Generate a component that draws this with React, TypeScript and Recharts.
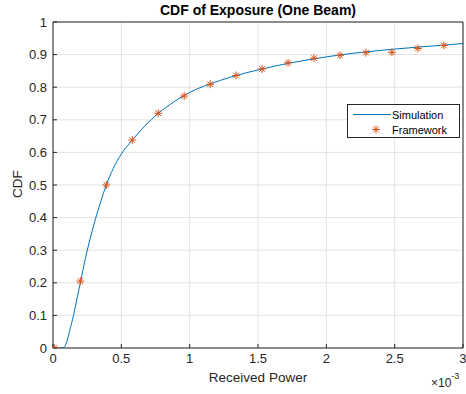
import { ComposedChart, Line, Scatter, XAxis, YAxis, CartesianGrid } from 'recharts';

// x values are in units of 10^-3
const simX = [0, 0.05, 0.075, 0.09, 0.1, 0.12, 0.15, 0.175, 0.2, 0.24, 0.3, 0.35, 0.39, 0.44, 0.5, 0.58, 0.67, 0.77, 0.86, 0.96, 1.05, 1.15, 1.3, 1.53, 1.72, 1.91, 2.1, 2.3, 2.5, 2.7, 2.86, 3.0];
const simY = [0, 0, 0, 0.008, 0.018, 0.05, 0.1, 0.15, 0.2, 0.28, 0.38, 0.45, 0.5, 0.55, 0.595, 0.638, 0.68, 0.72, 0.748, 0.775, 0.794, 0.81, 0.831, 0.856, 0.873, 0.887, 0.899, 0.909, 0.917, 0.924, 0.929, 0.934];

const fwX = [0.01, 0.2, 0.39, 0.58, 0.77, 0.96, 1.15, 1.34, 1.53, 1.72, 1.91, 2.1, 2.29, 2.48, 2.67, 2.86];
const fwY = [0, 0.205, 0.5, 0.638, 0.72, 0.773, 0.809, 0.836, 0.856, 0.875, 0.889, 0.898, 0.906, 0.907, 0.919, 0.928];

const xTicks = [0, 0.5, 1, 1.5, 2, 2.5, 3];
const yTicks = [0, 0.1, 0.2, 0.3, 0.4, 0.5, 0.6, 0.7, 0.8, 0.9, 1];

const BLUE = '#0072BD';
const ORANGE = '#D95319';
const AXIS = '#262626';
const FONT = '"Liberation Sans", Arial, Helvetica, sans-serif';

const simData = simX.map((x, i) => ({ x, y: simY[i] }));
const fwData = fwX.map((x, i) => ({ x, y: fwY[i] }));

const Star = ({ cx, cy }: any) => {
  const r = 4;
  const d = r * 0.707;
  return (
    <g stroke={ORANGE} strokeWidth={1}>
      <line x1={cx} y1={cy - r} x2={cx} y2={cy + r} />
      <line x1={cx - r} y1={cy} x2={cx + r} y2={cy} />
      <line x1={cx - d} y1={cy - d} x2={cx + d} y2={cy + d} />
      <line x1={cx - d} y1={cy + d} x2={cx + d} y2={cy - d} />
    </g>
  );
};

const tickStyle = { fill: AXIS, fontSize: 13, fontFamily: FONT };

export default function App() {
  return (
    <div style={{ position: 'absolute', left: 0, top: 0, width: 466, height: 394, background: '#fff' }}>
      <ComposedChart
        width={466}
        height={394}
        margin={{ top: 20, right: 0, left: 23, bottom: 16 }}
        style={{ position: 'absolute', left: 0, top: 0 }}
      >
        <CartesianGrid stroke="#e3e3e3" />
        <XAxis
          dataKey="x"
          type="number"
          domain={[0, 3]}
          ticks={xTicks}
          allowDataOverflow
          height={30}
          stroke={AXIS}
          tickSize={-4}
          tickMargin={10}
          tick={tickStyle}
        />
        <XAxis
          xAxisId="top"
          orientation="top"
          type="number"
          domain={[0, 3]}
          ticks={xTicks}
          allowDataOverflow
          height={2}
          stroke={AXIS}
          tickSize={-4}
          tick={false}
        />
        <YAxis
          dataKey="y"
          type="number"
          domain={[0, 1]}
          ticks={yTicks}
          allowDataOverflow
          width={30}
          stroke={AXIS}
          tickSize={-4}
          tickMargin={10}
          tick={tickStyle}
        />
        <YAxis
          yAxisId="right"
          orientation="right"
          type="number"
          domain={[0, 1]}
          ticks={yTicks}
          allowDataOverflow
          width={3}
          stroke={AXIS}
          tickSize={-4}
          tick={false}
        />
        <Line
          data={simData}
          dataKey="y"
          type="monotone"
          stroke={BLUE}
          strokeWidth={1}
          dot={false}
          isAnimationActive={false}
          name="Simulation"
        />
        <Scatter
          data={fwData}
          dataKey="y"
          shape={<Star />}
          isAnimationActive={false}
          name="Framework"
        />
      </ComposedChart>

      {/* title, axis labels and exponent */}
      <div
        style={{
          position: 'absolute', left: 53, width: 410, top: 2, textAlign: 'center',
          fontFamily: FONT, fontSize: 14, fontWeight: 'bold', color: '#000',
        }}
      >
        CDF of Exposure (One Beam)
      </div>
      <div
        style={{
          position: 'absolute', left: 53, width: 410, top: 370, textAlign: 'center',
          fontFamily: FONT, fontSize: 13.5, color: AXIS,
        }}
      >
        Received Power
      </div>
      <div
        style={{
          position: 'absolute', left: -2, top: 176, width: 40, height: 16, textAlign: 'center',
          fontFamily: FONT, fontSize: 13.5, color: AXIS, transform: 'rotate(-90deg)',
        }}
      >
        CDF
      </div>
      <div
        style={{
          position: 'absolute', left: 431, top: 376,
          fontFamily: FONT, fontSize: 12, color: AXIS, whiteSpace: 'nowrap',
        }}
      >
        ×10<sup style={{ fontSize: 9, verticalAlign: 'top', position: 'relative', top: -5 }}>-3</sup>
      </div>

      {/* legend */}
      <div
        style={{
          position: 'absolute', left: 347, top: 104, width: 113, height: 34,
          border: '1px solid #262626', background: '#fff', boxSizing: 'border-box',
          fontFamily: FONT, fontSize: 11, color: '#000', padding: '2px 0',
        }}
      >
        <div style={{ display: 'flex', alignItems: 'center', height: 15 }}>
          <svg width={44} height={15}>
            <line x1={5} y1={7.5} x2={43} y2={7.5} stroke={BLUE} strokeWidth={1} />
          </svg>
          <span>Simulation</span>
        </div>
        <div style={{ display: 'flex', alignItems: 'center', height: 15 }}>
          <svg width={44} height={15}>
            <Star cx={28} cy={7.5} />
          </svg>
          <span>Framework</span>
        </div>
      </div>
    </div>
  );
}
